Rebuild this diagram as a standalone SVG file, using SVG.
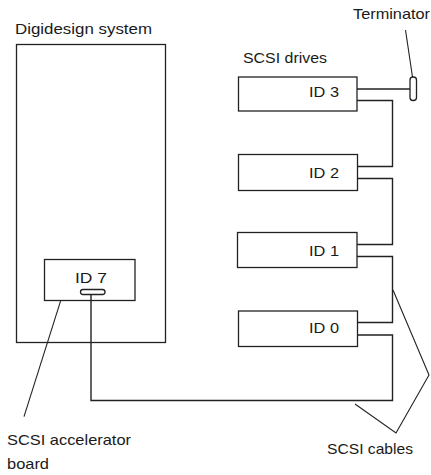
<svg xmlns="http://www.w3.org/2000/svg" width="431" height="475" viewBox="0 0 431 475">
<style>
.box{fill:#fff;stroke:#222;stroke-width:1.3}
.w{fill:none;stroke:#222;stroke-width:1.4}
.l{fill:none;stroke:#222;stroke-width:1.1}
text{font-family:"Liberation Sans",Arial,sans-serif;font-size:15px;fill:#1a1a1a}
</style>
<rect width="431" height="475" fill="#fff"/>
<g id="system">
<rect class="box" x="16.5" y="44.5" width="149" height="298"/>
<text x="15" y="34" textLength="137" lengthAdjust="spacingAndGlyphs">Digidesign system</text>
</g>
<g id="accelerator">
<rect class="box" x="44.5" y="259.5" width="90.5" height="41"/>
<text x="75" y="283" textLength="32" lengthAdjust="spacingAndGlyphs">ID 7</text>
<rect class="box" x="80.5" y="289.5" width="24.5" height="5" rx="2.5"/>
</g>
<g id="drive3">
<rect class="box" x="238.5" y="77" width="118.5" height="34"/>
<text x="309" y="97" textLength="30" lengthAdjust="spacingAndGlyphs">ID 3</text>
</g>
<g id="drive2">
<rect class="box" x="238.5" y="154.5" width="119" height="36"/>
<text x="309" y="178" textLength="30" lengthAdjust="spacingAndGlyphs">ID 2</text>
</g>
<g id="drive1">
<rect class="box" x="237.5" y="232.5" width="119.5" height="35"/>
<text x="309" y="256" textLength="30" lengthAdjust="spacingAndGlyphs">ID 1</text>
</g>
<g id="drive0">
<rect class="box" x="238.5" y="311" width="119" height="35.5"/>
<text x="309" y="333" textLength="30" lengthAdjust="spacingAndGlyphs">ID 0</text>
</g>
<g id="terminator">
<rect class="box" x="410" y="77" width="6.5" height="23.5" rx="3"/>
<text x="353" y="19" textLength="77" lengthAdjust="spacingAndGlyphs">Terminator</text>
</g>
<g id="labels">
<text x="243" y="63" textLength="84" lengthAdjust="spacingAndGlyphs">SCSI drives</text>
<text x="7" y="445" textLength="124" lengthAdjust="spacingAndGlyphs">SCSI accelerator</text>
<text x="7" y="469" textLength="42" lengthAdjust="spacingAndGlyphs">board</text>
<text x="327" y="454" textLength="86" lengthAdjust="spacingAndGlyphs">SCSI cables</text>
</g>
<g id="connectors">
<polyline class="w" points="357,89 410,89"/>
<polyline class="w" points="357,100.5 392.5,100.5 392.5,166.5 357,166.5"/>
<polyline class="w" points="357,178.5 392.5,178.5 392.5,244.5 357,244.5"/>
<polyline class="w" points="357,256.5 392.5,256.5 392.5,322.5 357,322.5"/>
<polyline class="w" points="357,335 392.5,335 392.5,400.5 91,400.5 91,294.5"/>
<line class="l" x1="405.5" y1="30" x2="412.5" y2="77"/>
<polyline class="l" points="393,290 429,375 396,433 355,404"/>
<line class="l" x1="60.7" y1="300.7" x2="24" y2="416.7"/>
</g>
</svg>
